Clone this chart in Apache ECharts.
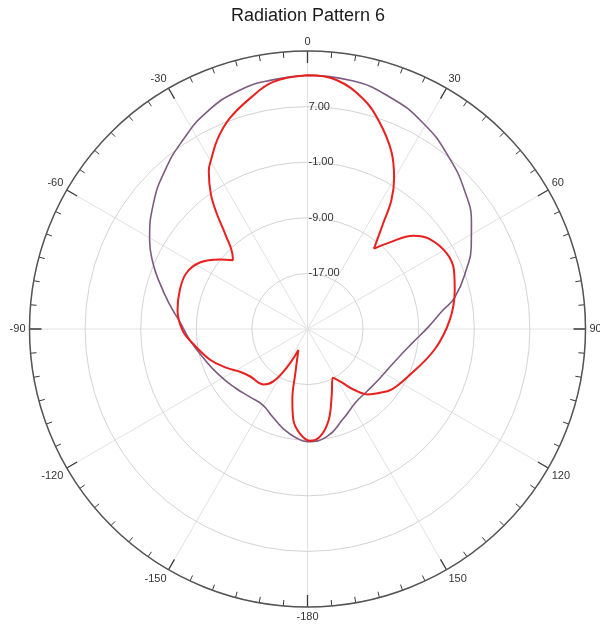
<!DOCTYPE html>
<html>
<head>
<meta charset="utf-8">
<script src="https://cdn.jsdelivr.net/npm/echarts@6/dist/echarts.min.js"></script>
<style>html,body{margin:0;padding:0;background:#fff;}#c{width:600px;height:632px;}</style>
</head>
<body>
<div id="c"></div>
<script>
// Radial scale: dB values, axis from -25 to 15 dB, ticks every 8 dB
const dbMin = -25;
const dbMax = 15;
const dbStep = 8;
const angleTickLabels = ['0','30','60','90','120','150','-180','-150','-120','-90','-60','-30'];

// Red curve (angle in degrees clockwise from top, value in dB)
const redAngles = [0, 6.5, 13.5, 19.0, 25.2, 29.9, 33.2, 35.7, 39.6, 43.4, 48.6, 53.5, 61.5, 68.2, 75.3, 86.4, 99.3, 115.3, 125.9, 130.8, 137.3, 142.6, 147.7, 152.6, 160.3, 166.8, 173.0, 178.5, 183.8, 188.9, 192.1, 195.5, 203.4, 208.1, 213.1, 218.6, 230.3, 237.7, 244.3, 252.5, 263.1, 269.5, 278.3, 286.8, 294.7, 301.7, 308.4, 312.6, 313.8, 319.1, 321.8, 324.4, 328.0, 330.7, 334.8, 339.7, 346.0, 352.1, 360];
const redValues = [11.5, 11.1, 9.1, 6.6, 3.3, 0.0, -3.0, -6.4, -10.0, -7.9, -4.7, -3.2, -2.2, -2.3, -3.1, -4.5, -6.5, -9.0, -10.1, -11.0, -12.2, -14.0, -16.0, -17.1, -14.7, -11.6, -9.5, -8.9, -9.8, -11.8, -14.6, -18.5, -21.7, -18.8, -16.0, -14.8, -14.3, -13.5, -12.1, -10.3, -8.3, -7.0, -6.1, -5.8, -5.8, -6.8, -8.9, -10.4, -10.1, -6.9, -3.9, -1.1, 1.8, 3.2, 5.3, 7.3, 9.2, 10.9, 11.5];

// Purple curve
const purpleAngles = [0, 10, 19.6, 29.2, 39, 49.2, 57.4, 63.6, 68.9, 77.8, 82.5, 89, 97.7, 110.4, 124, 136, 146, 159, 169.6, 180, 186.3, 193.4, 201.7, 210.6, 220, 230.7, 243.2, 254.9, 264.6, 273.2, 279.9, 287.4, 293.2, 299.5, 309.2, 318.2, 326.3, 335, 344, 352, 360];
const purpleValues = [11.5, 11.3, 10.4, 9.0, 7.1, 5.0, 3.0, 1.3, -0.4, -3.3, -5.5, -7.6, -9.8, -11.6, -12.4, -12.6, -12.4, -11.0, -9.3, -8.8, -9.3, -10.2, -11.4, -12.3, -12.2, -11.6, -10.6, -9.4, -8.0, -6.6, -4.9, -2.7, -0.8, 1.1, 3.6, 5.7, 7.5, 9.4, 10.7, 11.2, 11.5];

// radius axis runs 0..(dbMax-dbMin); data shifted by -dbMin so ticks start at a multiple of the step
const toPolar = (angles, values) => angles.map((a, i) => [values[i] - dbMin, a]);

const font = 'Liberation Sans, Arial, sans-serif';
const center = [307.5, 329];
const radius = 278;

const chart = echarts.init(document.getElementById('c'), null, {renderer: 'canvas'});
chart.setOption({
  animation: false,
  backgroundColor: '#ffffff',
  title: {
    text: 'Radiation Pattern 6',
    left: 308,
    top: 7,
    padding: 0,
    textAlign: 'center',
    textStyle: {fontFamily: font, fontSize: 18, fontWeight: 'normal', color: '#1a1a1a'}
  },
  polar: [
    {center: center, radius: radius},
    {center: center, radius: radius}
  ],
  angleAxis: [
    {
      polarIndex: 0,
      type: 'value',
      min: 0,
      max: 360,
      interval: 30,
      startAngle: 90,
      clockwise: true,
      z: 4,
      axisLine: {show: true, lineStyle: {color: '#555555', width: 1.5}},
      axisTick: {show: true, inside: true, length: 12, lineStyle: {color: '#3a3a3a', width: 1.3}},
      minorTick: {show: true, splitNumber: 6, length: 6, lineStyle: {color: '#3a3a3a', width: 1}},
      axisLabel: {
        show: true,
        margin: 4,
        fontFamily: font,
        fontSize: 11,
        color: '#333333',
        formatter: function (v) { return angleTickLabels[Math.round(v / 30) % 12]; }
      },
      splitLine: {show: false}
    },
    {
      polarIndex: 1,
      type: 'value',
      min: 0,
      max: 360,
      interval: 30,
      startAngle: 90,
      clockwise: true,
      z: 0,
      axisLine: {show: false},
      axisTick: {show: false},
      axisLabel: {show: false},
      splitLine: {show: true, lineStyle: {color: '#e2e2e2', width: 1}}
    }
  ],
  radiusAxis: [
    {
      polarIndex: 0,
      type: 'value',
      min: 0,
      max: dbMax - dbMin,
      interval: dbStep,
      z: 1,
      axisLine: {show: false},
      axisTick: {show: false},
      axisLabel: {
        show: true,
        margin: -1,
        align: 'left',
        verticalAlign: 'middle',
        fontFamily: font,
        fontSize: 11,
        color: '#333333',
        formatter: function (v) {
          if (v <= 0 || v >= dbMax - dbMin) return '';
          return (v + dbMin).toFixed(2);
        }
      },
      splitLine: {show: true, lineStyle: {color: '#d4d4d4', width: 1}}
    },
    {
      polarIndex: 1,
      type: 'value',
      min: 0,
      max: dbMax - dbMin,
      interval: dbStep,
      axisLine: {show: false},
      axisTick: {show: false},
      axisLabel: {show: false},
      splitLine: {show: false}
    }
  ],
  series: [
    {
      type: 'line',
      coordinateSystem: 'polar',
      polarIndex: 0,
      data: toPolar(purpleAngles, purpleValues),
      showSymbol: false,
      smooth: 0.5,
      lineStyle: {color: '#7d5b80', width: 1.6},
      z: 2
    },
    {
      type: 'line',
      coordinateSystem: 'polar',
      polarIndex: 0,
      data: toPolar(redAngles, redValues),
      showSymbol: false,
      smooth: 0.4,
      lineStyle: {color: '#e8201e', width: 2},
      z: 3
    }
  ]
});
</script>
</body>
</html>
